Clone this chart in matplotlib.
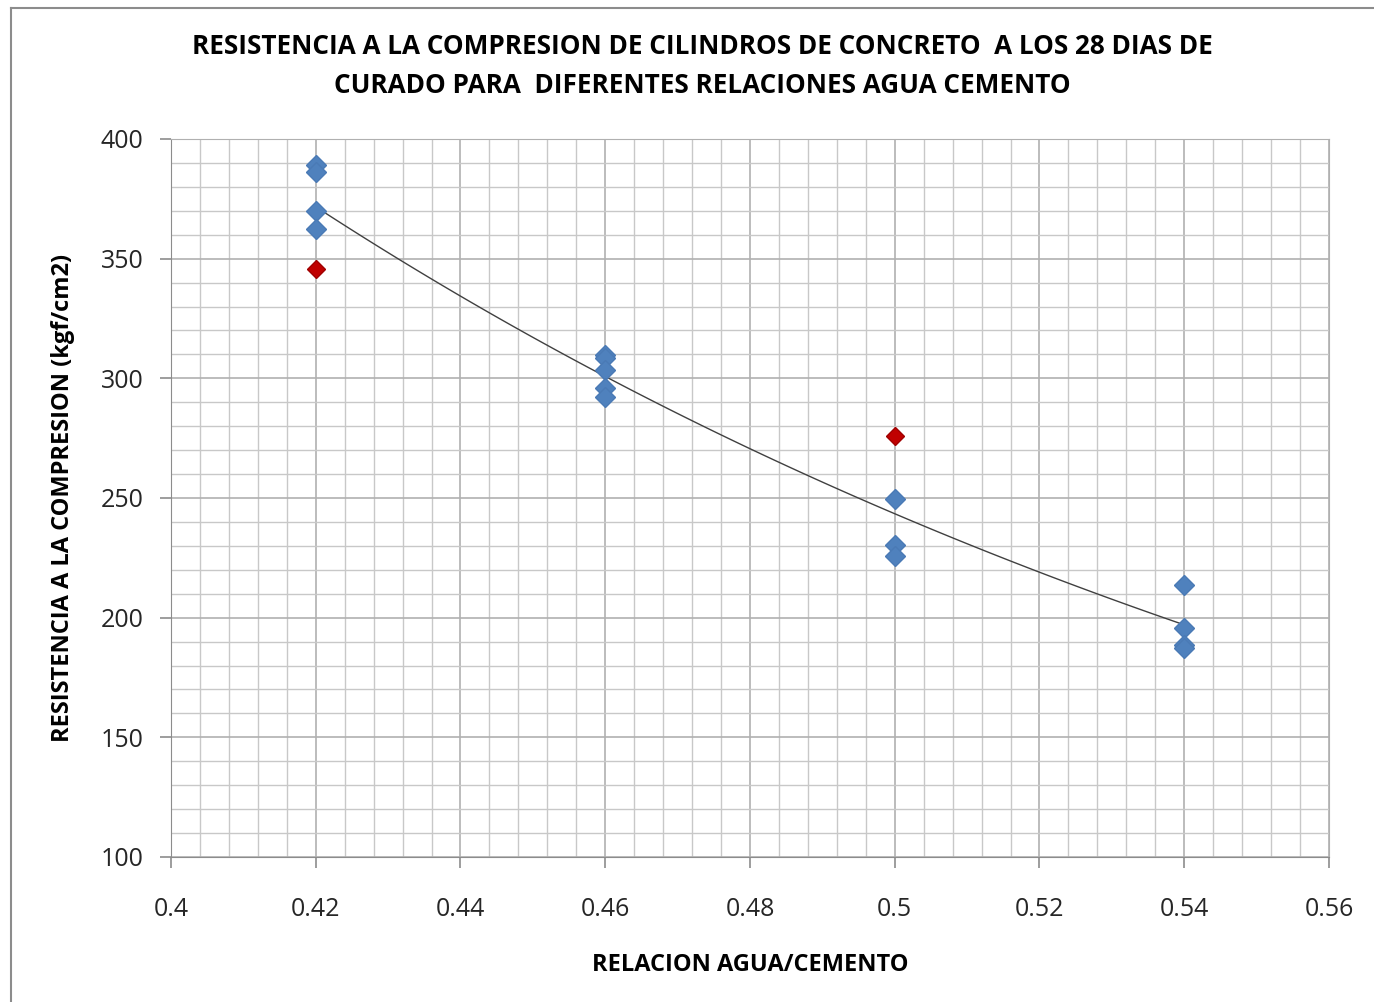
import numpy as np
import matplotlib
matplotlib.use('Agg')
import matplotlib.pyplot as plt
from matplotlib.ticker import MultipleLocator, FuncFormatter
from matplotlib.lines import Line2D

# relacion agua/cemento, resistencia (kgf/cm2)
blue_x = [0.42, 0.42, 0.42, 0.42,
          0.46, 0.46, 0.46, 0.46, 0.46,
          0.50, 0.50, 0.50,
          0.54, 0.54, 0.54, 0.54]
blue_y = [389.2, 386.3, 370.0, 362.3,
          309.6, 308.5, 303.3, 295.8, 292.4,
          249.7, 230.2, 225.8,
          213.8, 195.7, 188.5, 187.4]
red_x = [0.42, 0.50]
red_y = [345.5, 275.9]

title = ("RESISTENCIA A LA COMPRESION DE CILINDROS DE CONCRETO  A LOS 28 DIAS DE\n"
         "CURADO PARA  DIFERENTES RELACIONES AGUA CEMENTO")
xlabel = "RELACION AGUA/CEMENTO"
ylabel = "RESISTENCIA A LA COMPRESION (kgf/cm2)"

plt.rcParams['font.family'] = ['Open Sans', 'DejaVu Sans']

fig = plt.figure(figsize=(13.74, 10.02), dpi=100)
ax = fig.add_axes([171 / 1374, 1 - 857 / 1002, (1329 - 171) / 1374, (857 - 139) / 1002])

# exponential trend line through all points
all_x = np.array(blue_x + red_x)
all_y = np.array(blue_y + red_y)
b, lna = np.polyfit(all_x, np.log(all_y), 1)
tx = np.linspace(min(all_x), max(all_x), 100)
ax.plot(tx, np.exp(lna) * np.exp(b * tx), color='#404040', lw=1.0, zorder=3)

ax.plot(blue_x, blue_y, 'D', color='#4f81bd', ms=10.5, mec='#4a7ab5', zorder=4)
ax.plot(red_x, red_y, 'D', color='#c00000', ms=9.5, mec='#a00000', zorder=4)

ax.set_xlim(0.4, 0.56)
ax.set_ylim(100, 400)
ax.xaxis.set_major_locator(MultipleLocator(0.02))
ax.xaxis.set_minor_locator(MultipleLocator(0.004))
ax.yaxis.set_major_locator(MultipleLocator(50))
ax.yaxis.set_minor_locator(MultipleLocator(10))
ax.xaxis.set_major_formatter(FuncFormatter(lambda v, p: ('%.2f' % v).rstrip('0').rstrip('.')))
ax.grid(which='major', color='#b0b0b0', lw=1.2)
ax.grid(which='minor', color='#c8c8c8', lw=1.0)
ax.set_axisbelow(True)
ax.tick_params(which='major', length=8, width=1.2, color='#8c8c8c',
               labelsize=18, labelcolor='#262626', pad=12)
ax.tick_params(which='minor', length=0)
ax.tick_params(axis='x', pad=21)
for s in ax.spines.values():
    s.set_color('#b0b0b0')
ax.spines['left'].set_color('#8c8c8c')
ax.spines['bottom'].set_color('#8c8c8c')

ax.set_xlabel(xlabel, fontsize=17, fontweight='bold', labelpad=22)
ax.set_ylabel(ylabel, fontsize=17, fontweight='bold', labelpad=18)
fig.text(0.511, 0.934, title, ha='center', va='center', fontsize=18.8,
         fontweight='bold', linespacing=1.6)

# chart border
fig.add_artist(Line2D([11 / 1374, 11 / 1374], [0, 1 - 8 / 1002], color='#8c8c8c', lw=1.5))
fig.add_artist(Line2D([11 / 1374, 1], [1 - 8 / 1002, 1 - 8 / 1002], color='#8c8c8c', lw=1.5))

fig.savefig('out.png', dpi=100)
